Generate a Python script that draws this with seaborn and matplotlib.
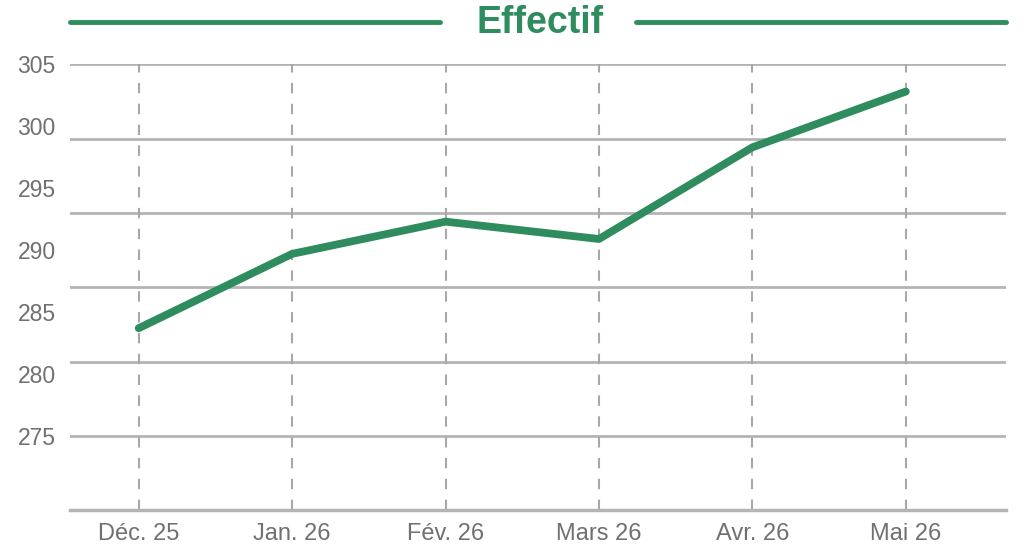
import matplotlib
matplotlib.use("Agg")
import matplotlib.pyplot as plt
import numpy as np
import pandas as pd
import seaborn as sns
from matplotlib.lines import Line2D
from matplotlib.ticker import FixedLocator

# donnees
mois = ["Déc. 25", "Jan. 26", "Fév. 26", "Mars 26", "Avr. 26", "Mai 26"]
effectif = [283.7, 289.7, 292.3, 290.9, 298.3, 302.8]
labels_y = [275, 280, 285, 290, 295, 300, 305]
grille_y = [269, 275, 281, 287, 293, 299, 305]

vert = "#2f8c5f"
gris = "#b4b4b4"
gris_texte = "#707070"

sns.set_theme(style="white")
plt.rcParams["font.family"] = ["Liberation Sans", "DejaVu Sans"]

df = pd.DataFrame({"mois": mois, "effectif": effectif})
df["pos"] = np.arange(len(mois))

fig, ax = plt.subplots(figsize=(10.24, 5.59), dpi=100)
fig.subplots_adjust(left=0.068, right=0.982, top=0.885, bottom=0.087)

# grille verticale en pointilles
for x in df["pos"]:
    ax.axvline(x, color="#a8a8a8", lw=1.5, ls=(0, (5, 5)), zorder=1)

sns.lineplot(data=df, x="pos", y="effectif", color=vert, lw=5.6,
             solid_capstyle="round", solid_joinstyle="round", ax=ax, zorder=3)

ax.set_xlim(-0.45, 5.65)
ax.set_ylim(269, 305)
ax.set_xticks(df["pos"])
ax.set_xticklabels(mois)
ax.set_yticks(labels_y)
ax.yaxis.set_minor_locator(FixedLocator(grille_y))
ax.yaxis.remove_overlapping_locs = False
ax.grid(False)
ax.grid(True, which="minor", axis="y", color=gris, lw=2, zorder=0)
ax.tick_params(axis="both", which="both", length=0, colors=gris_texte)
ax.tick_params(axis="y", pad=10, labelsize=16.5)
ax.tick_params(axis="x", pad=9, labelsize=17)
ax.set_xlabel("")
ax.set_ylabel("")
for s in ["top", "right", "left"]:
    ax.spines[s].set_visible(False)
ax.spines["bottom"].set_color(gris)
ax.spines["bottom"].set_linewidth(2.5)

# titre avec traits de chaque cote
fig.text(0.527, 0.958, "Effectif", ha="center", va="center", color=vert,
         fontsize=27, fontweight="heavy")
fig.add_artist(Line2D([0.068, 0.43], [0.96, 0.96], color=vert, lw=3.5,
                      solid_capstyle="round"))
fig.add_artist(Line2D([0.621, 0.982], [0.96, 0.96], color=vert, lw=3.5,
                      solid_capstyle="round"))

plt.savefig("out.png", dpi=100)
